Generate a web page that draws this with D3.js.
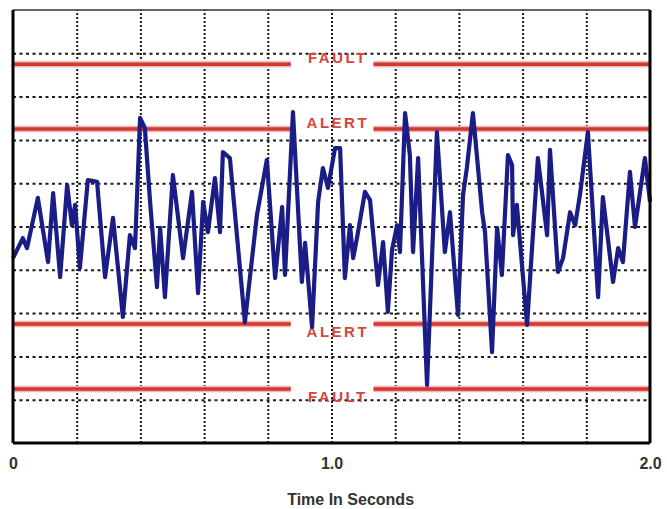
<!DOCTYPE html>
<html>
<head>
<meta charset="utf-8">
<script src="https://cdn.jsdelivr.net/npm/d3@7"></script>
<style>
  body { margin: 0; background: #fff; }
  svg { display: block; }
</style>
</head>
<body>
<div id="chart"></div>
<script>
// signal: time in seconds, amplitude in grid units
const times = [0, 0.031, 0.044, 0.078, 0.110, 0.126, 0.148, 0.170, 0.185, 0.195,
  0.210, 0.235, 0.264, 0.289, 0.314, 0.345, 0.367, 0.383, 0.399, 0.414,
  0.430, 0.452, 0.462, 0.477, 0.502, 0.534, 0.562, 0.581, 0.597, 0.612,
  0.634, 0.650, 0.659, 0.681, 0.728, 0.766, 0.797, 0.823, 0.845, 0.854,
  0.879, 0.907, 0.917, 0.939, 0.958, 0.973, 0.989, 1.011, 1.027, 1.042,
  1.058, 1.068, 1.080, 1.105, 1.121, 1.146, 1.162, 1.177, 1.190, 1.206,
  1.215, 1.231, 1.246, 1.256, 1.272, 1.300, 1.331, 1.356, 1.372, 1.397,
  1.413, 1.425, 1.444, 1.473, 1.482, 1.504, 1.520, 1.535, 1.554, 1.567,
  1.570, 1.582, 1.614, 1.648, 1.677, 1.686, 1.711, 1.727, 1.749, 1.765,
  1.780, 1.805, 1.837, 1.852, 1.884, 1.900, 1.915, 1.937, 1.953, 1.984, 2.0];
const values = [-0.73, -0.27, -0.50, 0.66, -0.82, 0.77, -1.17, 0.96, 0.03, 0.50,
  -0.96, 1.07, 1.03, -1.17, 0.20, -2.09, -0.20, -0.50, 2.51, 2.27,
  0.61, -1.40, -0.03, -1.63, 1.19, -0.73, 0.80, -1.54, 0.57, -0.13,
  1.12, -0.13, 1.72, 1.58, -2.21, 0.27, 1.54, -1.19, 0.45, -1.12,
  2.64, -1.28, -0.38, -2.32, 0.57, 1.35, 0.89, 1.81, 1.81, -1.19,
  0.03, -0.73, -0.27, 0.80, 0.61, -1.35, -0.36, -1.97, -0.54, 0.03,
  -0.59, 2.62, 1.65, -0.59, 1.58, -3.66, 2.18, -0.59, 0.33, -2.04,
  0.73, 1.35, 2.62, 0.33, -0.13, -2.90, -0.03, -1.12, 1.65, 1.42,
  -0.20, 0.50, -2.27, 1.58, -0.20, 1.77, -1.05, -0.73, 0.33, 0.03,
  0.73, 2.18, -1.63, 0.68, -1.28, -0.50, -0.82, 1.26, -0.01, 1.58, 0.57];

const limitLabels = ["FAULT", "ALERT", "ALERT", "FAULT"];
const limitValues = [3.75, 2.25, -2.25, -3.75];

const xTickLabels = [0, 1.0, 2.0];
const xTitle = "Time In Seconds";

const margin = {top: 10, right: 17, bottom: 66, left: 13};
const W = 667, H = 509;
const width = W - margin.left - margin.right;
const height = H - margin.top - margin.bottom;

const svg = d3.select("#chart").append("svg")
    .attr("width", W)
    .attr("height", H);
const g = svg.append("g")
    .attr("transform", "translate(" + margin.left + "," + margin.top + ")");

const x = d3.scaleLinear().domain([0, 2]).range([0, width]);
const y = d3.scaleLinear().domain([-5, 5]).range([height, 0]);

// grid
g.append("g")
    .attr("class", "hgrid")
    .call(d3.axisLeft(y).tickValues(d3.range(-4, 5, 1)).tickSize(-width).tickFormat(""))
    .call(a => a.select(".domain").remove())
    .selectAll("line")
    .attr("stroke", "#1a1a1a")
    .attr("stroke-width", 2)
    .attr("stroke-dasharray", "3,3.5");

g.append("g")
    .attr("class", "vgrid")
    .attr("transform", "translate(0," + height + ")")
    .call(d3.axisBottom(x).tickValues(d3.range(0.2, 2, 0.2)).tickSize(-height).tickFormat(""))
    .call(a => a.select(".domain").remove())
    .selectAll("line")
    .attr("stroke", "#1a1a1a")
    .attr("stroke-width", 2)
    .attr("stroke-dasharray", "2,2");

// limit lines, with a gap for the label
const limits = limitValues.map((v, i) => ({v: v, label: limitLabels[i]}));
const gapL = 0.872, gapR = 1.132;
const limitG = g.append("g").attr("class", "limits");
[["#f5b5b0", 6.5], ["#d13a33", 3.5]].forEach(st => {
  limitG.selectAll(null)
    .data(limits)
    .join("path")
    .attr("d", d => "M" + x(0) + "," + y(d.v) + "H" + x(gapL) +
                    "M" + x(gapR) + "," + y(d.v) + "H" + x(2))
    .attr("stroke", st[0])
    .attr("stroke-width", st[1])
    .attr("fill", "none");
});
limitG.selectAll("text")
  .data(limits)
  .join("text")
    .attr("x", x(1.02))
    .attr("y", d => d.v > 0 ? y(d.v) - 1 : y(d.v) + 13)
    .attr("text-anchor", "middle")
    .attr("fill", "#d8453d")
    .attr("font-family", "Liberation Sans, Arial, sans-serif")
    .attr("font-weight", "bold")
    .attr("font-size", 15)
    .attr("letter-spacing", 2.5)
    .text(d => d.label);

// signal
const signal = times.map((t, i) => ({t: t, v: values[i]}));
g.append("path")
    .datum(signal)
    .attr("fill", "none")
    .attr("stroke", "#1b1d86")
    .attr("stroke-width", 4.2)
    .attr("stroke-linejoin", "round")
    .attr("d", d3.line().x(d => x(d.t)).y(d => y(d.v)));

// frame
g.append("line").attr("x1", 0).attr("x2", width).attr("y1", 0).attr("y2", 0)
    .attr("stroke", "#333").attr("stroke-width", 1.5);
g.append("line").attr("x1", width).attr("x2", width).attr("y1", 0).attr("y2", height)
    .attr("stroke", "#000").attr("stroke-width", 3);
g.append("line").attr("x1", 0).attr("x2", 0).attr("y1", 0).attr("y2", height)
    .attr("stroke", "#000").attr("stroke-width", 3);
g.append("line").attr("x1", 0).attr("x2", width).attr("y1", height).attr("y2", height)
    .attr("stroke", "#000").attr("stroke-width", 3);

// x tick labels and title
const xAxis = g.append("g")
    .attr("transform", "translate(0," + height + ")")
    .call(d3.axisBottom(x).tickValues(xTickLabels).tickSize(0).tickPadding(15)
      .tickFormat(d => d === 0 ? "0" : d3.format(".1f")(d)));
xAxis.select(".domain").remove();
xAxis.selectAll("text")
    .attr("fill", "#333")
    .attr("font-family", "Liberation Sans, Arial, sans-serif")
    .attr("font-weight", "bold")
    .attr("font-size", 16);

g.append("text")
    .attr("x", x(1.06))
    .attr("y", height + 62)
    .attr("text-anchor", "middle")
    .attr("fill", "#333")
    .attr("font-family", "Liberation Sans, Arial, sans-serif")
    .attr("font-weight", "bold")
    .attr("font-size", 16)
    .text(xTitle);
</script>
</body>
</html>
